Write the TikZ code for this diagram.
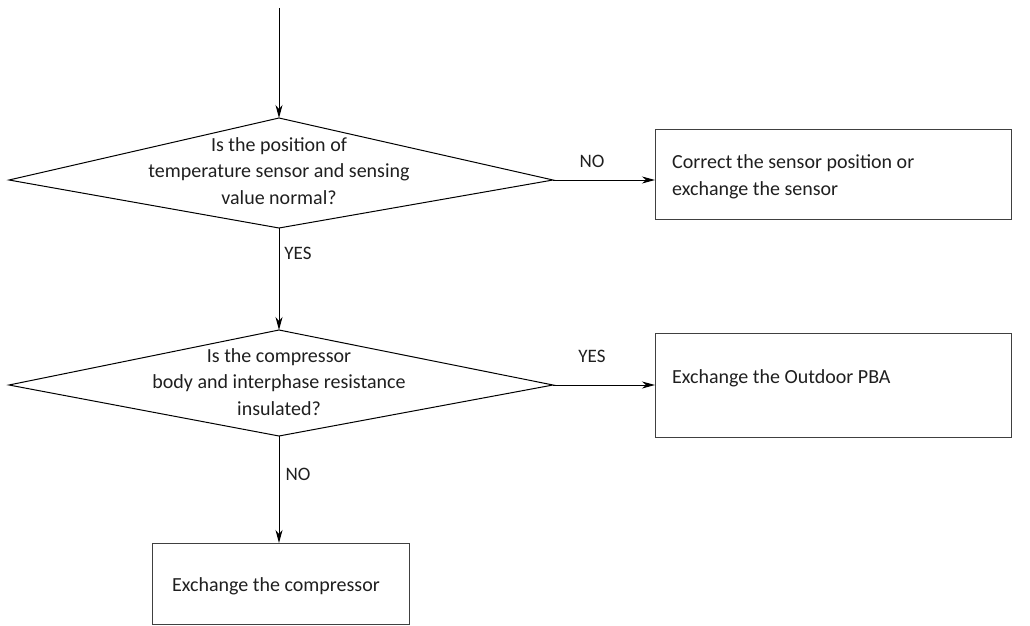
\documentclass[tikz,border=0pt]{standalone}
\usepackage{fontspec}
\setmainfont{Carlito}
\usetikzlibrary{arrows.meta}
\begin{document}
\begin{tikzpicture}[x=1pt,y=-1pt,
  line/.style={draw=black,line width=1pt},
  arr/.style={line,-{Stealth[length=13pt,width=7pt,inset=4pt]}},
  boxstyle/.style={draw=black!75,line width=1pt,inner sep=0pt},
  txt/.style={font=\fontsize{20}{26.5}\selectfont,text=black!88,align=center,inner sep=0pt},
  lbl/.style={font=\fontsize{19}{22}\selectfont,text=black!88,inner sep=0pt}]
\useasboundingbox (0,0) rectangle (1030,626);
% top entry
\coordinate (start) at (279,8);
% diamond 1
\coordinate (d1t) at (279,118);
\coordinate (d1r) at (553,180);
\coordinate (d1b) at (279,228);
\coordinate (d1l) at (9,180);
\draw[line,line join=miter] (d1t) -- (d1r) -- (d1b) -- (d1l) -- cycle;
\node[txt] (q1) at (279,171) {Is the position of\\temperature sensor and sensing\\value normal?};
% box 1
\node[boxstyle,minimum width=356pt,minimum height=90pt,anchor=north west] (b1) at (655,129) {};
\node[txt,align=left,anchor=west] (b1t) at (672,177) {Correct the sensor position or\\exchange the sensor};
% diamond 2
\coordinate (d2t) at (279,330);
\coordinate (d2r) at (553,385);
\coordinate (d2b) at (279,436);
\coordinate (d2l) at (9,385);
\draw[line,line join=miter] (d2t) -- (d2r) -- (d2b) -- (d2l) -- cycle;
\node[txt] (q2) at (279,382) {Is the compressor\\body and interphase resistance\\insulated?};
% box 2
\node[boxstyle,minimum width=356pt,minimum height=104pt,anchor=north west] (b2) at (655,333) {};
\node[txt,align=left,anchor=west] (b2t) at (672,378) {Exchange the Outdoor PBA};
% box 3
\node[boxstyle,minimum width=257pt,minimum height=81pt,anchor=north west] (b3) at (152,543) {};
\node[txt] (b3t) at (276,586) {Exchange the compressor};
% connectors
\draw[arr] (start) -- (d1t);
\draw[arr] (d1r) -- (b1.west |- d1r);
\draw[arr] (d1b) -- (d2t);
\draw[arr] (d2r) -- (b2.west |- d2r);
\draw[arr] (d2b) -- (b3.north -| d2b);
% labels
\node[lbl] (no1) at (592,161) {NO};
\node[lbl] (yes1) at (298,253) {YES};
\node[lbl] (yes2) at (592,356) {YES};
\node[lbl] (no2) at (298,474) {NO};
\end{tikzpicture}
\end{document}
